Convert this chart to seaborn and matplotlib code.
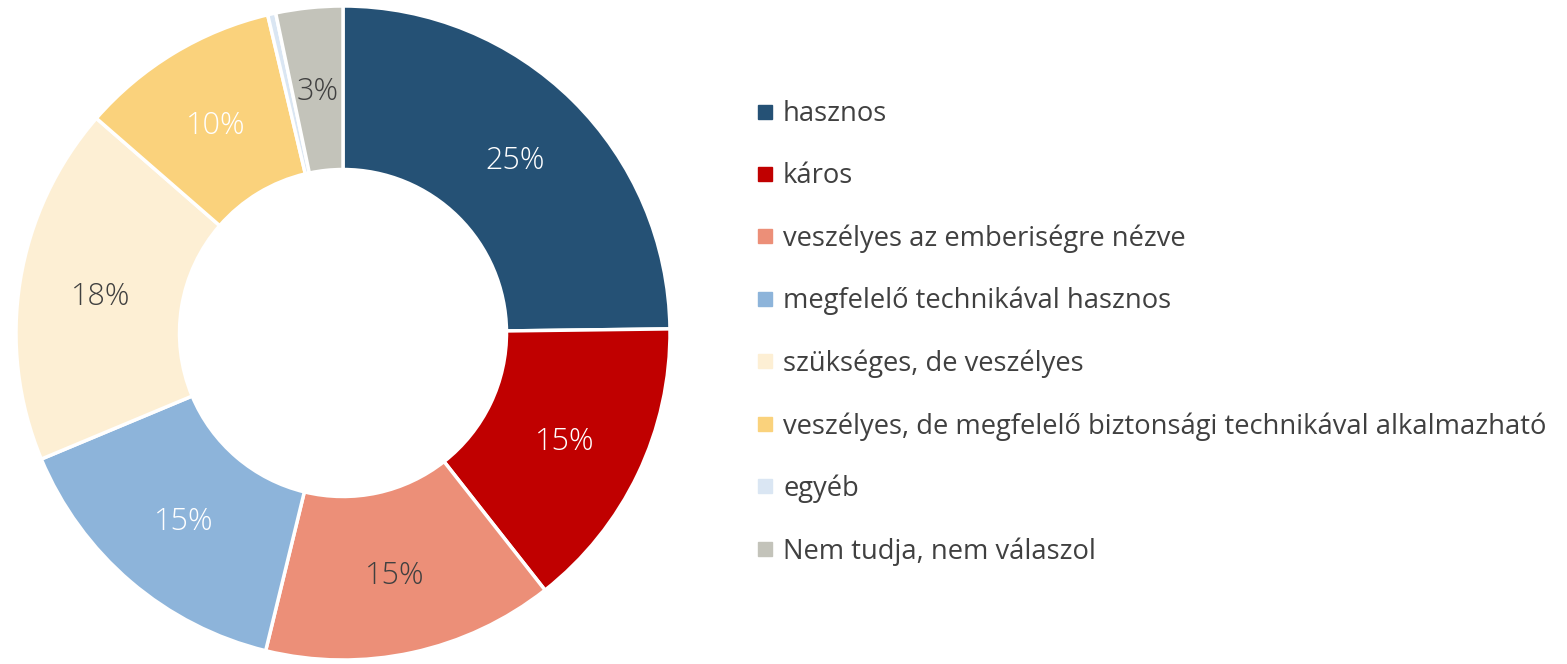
import matplotlib
matplotlib.use("Agg")
import matplotlib.pyplot as plt
import seaborn as sns
import numpy as np
from matplotlib.lines import Line2D

categories = ["hasznos", "káros", "veszélyes az emberiségre nézve",
              "megfelelő technikával hasznos", "szükséges, de veszélyes",
              "veszélyes, de megfelelő biztonsági technikával alkalmazható",
              "egyéb", "Nem tudja, nem válaszol"]
values = [24.8, 14.6, 14.4, 14.9, 17.7, 9.9, 0.4, 3.3]
pct_labels = ["25%", "15%", "15%", "15%", "18%", "10%", "", "3%"]
colors = ["#255175", "#C00000", "#EC8F78", "#8DB4DA", "#FDEFD4", "#FAD27C", "#DAE6F3", "#C3C3BA"]
label_colors = ["white", "white", "#404040", "white", "#404040", "white", "#404040", "#404040"]

sns.set_theme(style="white")
plt.rcParams["font.family"] = ["Open Sans", "DejaVu Sans"]

W, H = 1567, 664
fig = plt.figure(figsize=(W / 100, H / 100), dpi=100)
cx, cy, r = 343, 333, 327
ax = fig.add_axes([(cx - r) / W, (H - cy - r) / H, 2 * r / W, 2 * r / H])

wedges, _ = ax.pie(values, colors=colors, startangle=90, counterclock=False,
                   radius=1.0, wedgeprops=dict(width=0.5, edgecolor="white", linewidth=2.5))
fs_pct = 22
cum = 0
for v, lab, lc in zip(values, pct_labels, label_colors):
    mid = 90 - (cum + v / 2) / 100 * 360
    cum += v
    if lab:
        ax.annotate(lab, (0.75 * np.cos(np.radians(mid)), 0.75 * np.sin(np.radians(mid))),
                    xytext=(0, -0.357 * fs_pct), textcoords="offset points",
                    ha="center", va="baseline", fontsize=fs_pct, color=lc, fontweight="light")
ax.set_xlim(-1, 1)
ax.set_ylim(-1, 1)
ax.set_aspect("equal")
ax.axis("off")

handles = [Line2D([0], [0], marker="s", linestyle="none", markersize=10.5,
                  markerfacecolor=c, markeredgecolor=c) for c in colors]
leg = fig.legend(handles, categories, loc="center left", bbox_to_anchor=(757 / W, 1 - 333 / H),
                 frameon=False, fontsize=19.75, labelcolor="#404040", handlelength=0.6,
                 handletextpad=0.35, labelspacing=1.24, borderaxespad=0, borderpad=0)

fig.savefig("out.png", dpi=100)
